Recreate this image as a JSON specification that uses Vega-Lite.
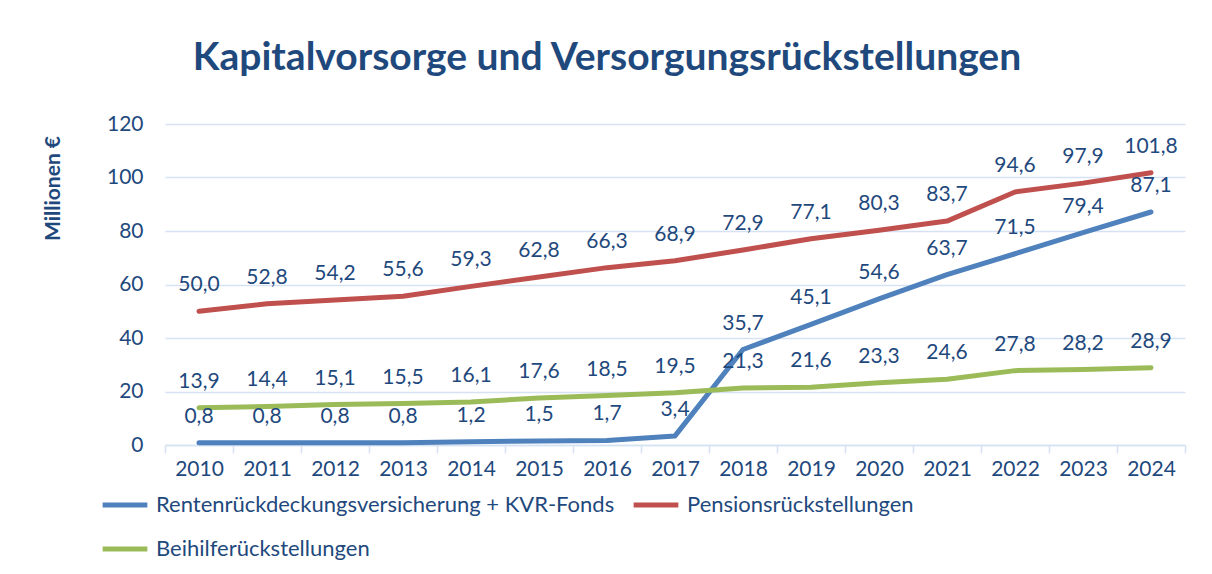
{
  "$schema": "https://vega.github.io/schema/vega-lite/v6.json",
  "autosize": {"type": "none"},
  "width": 1020,
  "height": 321,
  "padding": {"left": 165, "top": 124, "right": 27, "bottom": 129},
  "background": "white",
  "config": {
    "font": "Lato",
    "view": {"stroke": null},
    "locale": {"number": {"decimal": ",", "thousands": ".", "grouping": [3], "currency": ["", " €"]}}
  },
  "title": {
    "text": "Kapitalvorsorge  und Versorgungsrückstellungen",
    "fontSize": 39,
    "fontWeight": "bold",
    "color": "#1F497D",
    "anchor": "middle",
    "dx": -68,
    "offset": 35
  },
  "data": {
    "values": [
      {"year": "2010", "series": "Rentenrückdeckungsversicherung + KVR-Fonds", "value": 0.8},
      {"year": "2011", "series": "Rentenrückdeckungsversicherung + KVR-Fonds", "value": 0.8},
      {"year": "2012", "series": "Rentenrückdeckungsversicherung + KVR-Fonds", "value": 0.8},
      {"year": "2013", "series": "Rentenrückdeckungsversicherung + KVR-Fonds", "value": 0.8},
      {"year": "2014", "series": "Rentenrückdeckungsversicherung + KVR-Fonds", "value": 1.2},
      {"year": "2015", "series": "Rentenrückdeckungsversicherung + KVR-Fonds", "value": 1.5},
      {"year": "2016", "series": "Rentenrückdeckungsversicherung + KVR-Fonds", "value": 1.7},
      {"year": "2017", "series": "Rentenrückdeckungsversicherung + KVR-Fonds", "value": 3.4},
      {"year": "2018", "series": "Rentenrückdeckungsversicherung + KVR-Fonds", "value": 35.7},
      {"year": "2019", "series": "Rentenrückdeckungsversicherung + KVR-Fonds", "value": 45.1},
      {"year": "2020", "series": "Rentenrückdeckungsversicherung + KVR-Fonds", "value": 54.6},
      {"year": "2021", "series": "Rentenrückdeckungsversicherung + KVR-Fonds", "value": 63.7},
      {"year": "2022", "series": "Rentenrückdeckungsversicherung + KVR-Fonds", "value": 71.5},
      {"year": "2023", "series": "Rentenrückdeckungsversicherung + KVR-Fonds", "value": 79.4},
      {"year": "2024", "series": "Rentenrückdeckungsversicherung + KVR-Fonds", "value": 87.1},
      {"year": "2010", "series": "Pensionsrückstellungen", "value": 50.0},
      {"year": "2011", "series": "Pensionsrückstellungen", "value": 52.8},
      {"year": "2012", "series": "Pensionsrückstellungen", "value": 54.2},
      {"year": "2013", "series": "Pensionsrückstellungen", "value": 55.6},
      {"year": "2014", "series": "Pensionsrückstellungen", "value": 59.3},
      {"year": "2015", "series": "Pensionsrückstellungen", "value": 62.8},
      {"year": "2016", "series": "Pensionsrückstellungen", "value": 66.3},
      {"year": "2017", "series": "Pensionsrückstellungen", "value": 68.9},
      {"year": "2018", "series": "Pensionsrückstellungen", "value": 72.9},
      {"year": "2019", "series": "Pensionsrückstellungen", "value": 77.1},
      {"year": "2020", "series": "Pensionsrückstellungen", "value": 80.3},
      {"year": "2021", "series": "Pensionsrückstellungen", "value": 83.7},
      {"year": "2022", "series": "Pensionsrückstellungen", "value": 94.6},
      {"year": "2023", "series": "Pensionsrückstellungen", "value": 97.9},
      {"year": "2024", "series": "Pensionsrückstellungen", "value": 101.8},
      {"year": "2010", "series": "Beihilferückstellungen", "value": 13.9},
      {"year": "2011", "series": "Beihilferückstellungen", "value": 14.4},
      {"year": "2012", "series": "Beihilferückstellungen", "value": 15.1},
      {"year": "2013", "series": "Beihilferückstellungen", "value": 15.5},
      {"year": "2014", "series": "Beihilferückstellungen", "value": 16.1},
      {"year": "2015", "series": "Beihilferückstellungen", "value": 17.6},
      {"year": "2016", "series": "Beihilferückstellungen", "value": 18.5},
      {"year": "2017", "series": "Beihilferückstellungen", "value": 19.5},
      {"year": "2018", "series": "Beihilferückstellungen", "value": 21.3},
      {"year": "2019", "series": "Beihilferückstellungen", "value": 21.6},
      {"year": "2020", "series": "Beihilferückstellungen", "value": 23.3},
      {"year": "2021", "series": "Beihilferückstellungen", "value": 24.6},
      {"year": "2022", "series": "Beihilferückstellungen", "value": 27.8},
      {"year": "2023", "series": "Beihilferückstellungen", "value": 28.2},
      {"year": "2024", "series": "Beihilferückstellungen", "value": 28.9}
    ]
  },
  "encoding": {
    "x": {
      "field": "year",
      "type": "ordinal",
      "title": null,
      "scale": {"type": "band", "paddingInner": 0, "paddingOuter": 0},
      "axis": {
        "labelAngle": 0,
        "labelFontSize": 21,
        "labelColor": "#1F497D",
        "labelPadding": 5,
        "domainColor": "#D6E1F1",
        "domainWidth": 1.5,
        "tickColor": "#D6E1F1",
        "tickWidth": 1.5,
        "tickSize": 8,
        "tickBand": "extent",
        "grid": false
      }
    },
    "y": {
      "field": "value",
      "type": "quantitative",
      "scale": {"domain": [0, 120]},
      "title": "Millionen €",
      "axis": {
        "values": [0, 20, 40, 60, 80, 100, 120],
        "labelFontSize": 21,
        "labelColor": "#1F497D",
        "labelPadding": 22,
        "domain": false,
        "ticks": false,
        "gridColor": "#D6E1F1",
        "gridWidth": 1.5,
        "titleFontSize": 21,
        "titleFontWeight": "bold",
        "titleColor": "#1F497D",
        "titleX": -112,
        "titleY": 64,
        "titleAlign": "center",
        "titleBaseline": "middle"
      }
    },
    "color": {
      "field": "series",
      "type": "nominal",
      "scale": {
        "domain": ["Rentenrückdeckungsversicherung + KVR-Fonds", "Pensionsrückstellungen", "Beihilferückstellungen"],
        "range": ["#4F81BD", "#C0504D", "#9BBB59"]
      },
      "legend": {
        "title": null,
        "orient": "none",
        "direction": "horizontal",
        "legendX": -65,
        "legendY": 356,
        "columns": 2,
        "columnPadding": 8,
        "rowPadding": 8,
        "symbolType": "stroke",
        "symbolStrokeWidth": 5,
        "symbolSize": 2000,
        "labelFontSize": 22,
        "labelLimit": 0,
        "labelColor": "#1F497D",
        "labelOffset": 6
      }
    }
  },
  "layer": [
    {
      "mark": {"type": "line", "strokeWidth": 5, "strokeCap": "round", "strokeJoin": "round"}
    },
    {
      "mark": {"type": "text", "fontSize": 21, "color": "#1F497D", "baseline": "bottom", "dy": -16},
      "encoding": {
        "text": {"field": "value", "type": "quantitative", "format": ".1f"},
        "color": {"value": "#1F497D"}
      }
    }
  ]
}
